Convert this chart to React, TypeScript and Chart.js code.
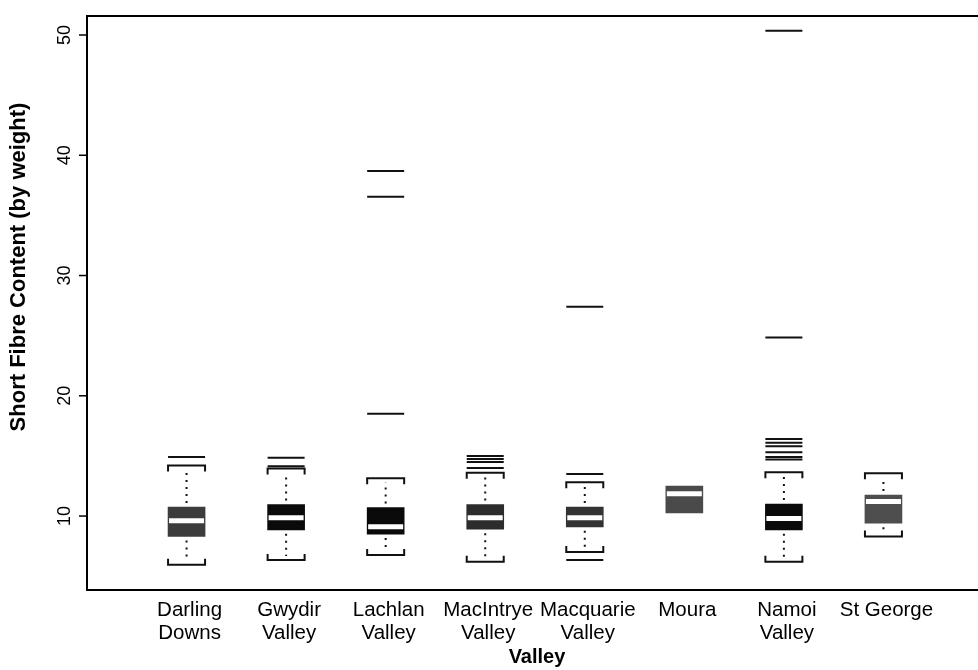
import React, { useEffect, useRef } from "react";
import { Chart, registerables } from "chart.js";

Chart.register(...registerables);

// Valleys along the x axis (one box per valley)
const valleyLabels: string[][] = [
  ["Darling", "Downs"],
  ["Gwydir", "Valley"],
  ["Lachlan", "Valley"],
  ["MacIntrye", "Valley"],
  ["Macquarie", "Valley"],
  ["Moura"],
  ["Namoi", "Valley"],
  ["St George"],
];

// Five-number summaries of short fibre content (% by weight)
const whiskerLow = [5.95, 6.35, 6.75, 6.2, 7.0, 10.25, 6.2, 8.3];
const quartile1 = [8.3, 8.85, 8.5, 8.9, 9.1, 10.25, 8.85, 9.4];
const medians = [9.6, 9.85, 9.1, 9.85, 9.85, 11.85, 9.8, 11.2];
const quartile3 = [10.75, 10.95, 10.7, 10.95, 10.75, 12.5, 11.0, 11.75];
const whiskerHigh = [14.2, 13.95, 13.15, 13.6, 12.8, 12.5, 13.65, 13.55];

// Values beyond the whiskers, per valley
const outliers: number[][] = [
  [14.9],
  [14.85, 14.15],
  [38.7, 36.55, 18.5],
  [15.0, 14.75, 14.5, 14.0],
  [27.4, 13.5, 6.35],
  [],
  [50.35, 24.85, 16.4, 16.1, 15.8, 15.3, 14.9, 14.7],
  [],
];

// Fill shade of each box
const boxColors = [
  "#3c3c3c",
  "#0a0a0a",
  "#0a0a0a",
  "#2c2c2c",
  "#333333",
  "#4a4a4a",
  "#0a0a0a",
  "#4e4e4e",
];

const yTicks = [10, 20, 30, 40, 50];
const yTitle = "Short Fibre Content (by weight)";
const xTitle = "Valley";

const FONT = '"Liberation Sans", Arial, Helvetica, sans-serif';
const BOX_W = 37;

const boxPlotDecor = {
  id: "boxPlotDecor",
  afterDatasetsDraw(chart: any) {
    const { ctx, chartArea, scales } = chart;
    const xs = scales.x;
    const ys = scales.y;
    const { left, right, top, bottom } = chartArea;
    ctx.save();
    ctx.strokeStyle = "#111";
    ctx.fillStyle = "#111";

    // whiskers and caps
    for (let i = 0; i < medians.length; i++) {
      const cx = xs.getPixelForValue(i + 1);
      const half = BOX_W / 2;
      const yQ1 = ys.getPixelForValue(quartile1[i]);
      const yQ3 = ys.getPixelForValue(quartile3[i]);
      const yLo = ys.getPixelForValue(whiskerLow[i]);
      const yHi = ys.getPixelForValue(whiskerHigh[i]);

      ctx.lineWidth = 2;
      ctx.setLineDash([2, 5]);
      if (whiskerHigh[i] > quartile3[i]) {
        ctx.beginPath();
        ctx.moveTo(cx, yQ3 - 4);
        ctx.lineTo(cx, yHi + 4);
        ctx.stroke();
      }
      if (whiskerLow[i] < quartile1[i]) {
        ctx.beginPath();
        ctx.moveTo(cx, yQ1 + 4);
        ctx.lineTo(cx, yLo - 4);
        ctx.stroke();
      }
      ctx.setLineDash([]);
      if (whiskerHigh[i] > quartile3[i]) {
        ctx.beginPath();
        ctx.moveTo(cx - half, yHi + 6);
        ctx.lineTo(cx - half, yHi);
        ctx.lineTo(cx + half, yHi);
        ctx.lineTo(cx + half, yHi + 6);
        ctx.stroke();
      }
      if (whiskerLow[i] < quartile1[i]) {
        ctx.beginPath();
        ctx.moveTo(cx - half, yLo - 6);
        ctx.lineTo(cx - half, yLo);
        ctx.lineTo(cx + half, yLo);
        ctx.lineTo(cx + half, yLo - 6);
        ctx.stroke();
      }
    }

    // frame: left, top and bottom
    ctx.lineWidth = 2;
    ctx.strokeStyle = "#000";
    ctx.beginPath();
    ctx.moveTo(right, top);
    ctx.lineTo(left, top);
    ctx.lineTo(left, bottom);
    ctx.lineTo(right, bottom);
    ctx.stroke();

    // y ticks with rotated labels
    ctx.fillStyle = "#000";
    ctx.font = `18px ${FONT}`;
    ctx.textAlign = "center";
    ctx.textBaseline = "middle";
    ctx.lineWidth = 1.5;
    for (const t of yTicks) {
      const y = ys.getPixelForValue(t);
      ctx.beginPath();
      ctx.moveTo(left - 8, y);
      ctx.lineTo(left, y);
      ctx.stroke();
      ctx.save();
      ctx.translate(left - 22, y);
      ctx.rotate(-Math.PI / 2);
      ctx.fillText(String(t), 0, 0);
      ctx.restore();
    }

    // valley labels
    ctx.font = `20.5px ${FONT}`;
    for (let i = 0; i < valleyLabels.length; i++) {
      const cx = xs.getPixelForValue(i + 1) + 3;
      valleyLabels[i].forEach((line, j) => {
        ctx.fillText(line, cx, bottom + 20 + j * 23);
      });
    }

    // axis titles
    ctx.font = `bold 20px ${FONT}`;
    ctx.fillText(xTitle, xs.getPixelForValue(4.52), bottom + 67);
    ctx.font = `bold 22px ${FONT}`;
    ctx.save();
    ctx.translate(left - 68, (top + bottom) / 2 - 36);
    ctx.rotate(-Math.PI / 2);
    ctx.fillText(yTitle, 0, 0);
    ctx.restore();

    ctx.restore();
  },
};

export default function App() {
  const canvasRef = useRef<HTMLCanvasElement | null>(null);

  useEffect(() => {
    if (!canvasRef.current) return;
    const idx = medians.map((_, i) => i + 1);
    const chart = new Chart(canvasRef.current, {
      type: "bar",
      data: {
        datasets: [
          {
            type: "bar",
            label: "boxes",
            data: idx.map((x, i) => ({ x, y: [quartile1[i], quartile3[i]] })) as any,
            backgroundColor: boxColors,
            borderWidth: 0,
            barThickness: BOX_W,
            grouped: false,
            order: 3,
          } as any,
          {
            type: "scatter",
            label: "medians",
            data: idx.map((x, i) => ({ x, y: medians[i] })),
            pointStyle: "line",
            radius: 17.5,
            borderWidth: 5,
            borderColor: "#ffffff",
            showLine: false,
            order: 1,
          } as any,
          {
            type: "scatter",
            label: "outliers",
            data: outliers.flatMap((vals, i) => vals.map((v) => ({ x: i + 1, y: v }))),
            pointStyle: "line",
            radius: 18.5,
            borderWidth: 2,
            borderColor: "#111111",
            showLine: false,
            order: 2,
          } as any,
        ],
      },
      options: {
        animation: false,
        responsive: false,
        devicePixelRatio: 1,
        layout: {
          autoPadding: false,
          padding: { left: 87, top: 16, right: 7, bottom: 80 },
        },
        plugins: { legend: { display: false }, tooltip: { enabled: false } },
        scales: {
          x: { type: "linear", min: 0, max: 9, offset: false, display: false },
          y: { type: "linear", min: 3.85, max: 51.58, display: false },
        },
      },
      plugins: [boxPlotDecor],
    });
    return () => chart.destroy();
  }, []);

  return (
    <div
      style={{
        position: "fixed",
        left: 0,
        top: 0,
        width: 978,
        height: 670,
        overflow: "hidden",
        background: "#fff",
      }}
    >
      <div style={{ width: 990, height: 670 }}>
        <canvas
          ref={canvasRef}
          width={990}
          height={670}
          style={{ display: "block", width: 990, height: 670 }}
        />
      </div>
    </div>
  );
}
